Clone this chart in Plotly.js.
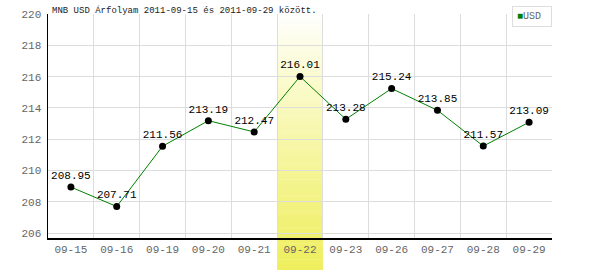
<!DOCTYPE html>
<html>
<head>
<meta charset="utf-8">
<script src="https://cdn.plot.ly/plotly-3.0.1.min.js"></script>
<style>html,body{margin:0;padding:0;background:#fff;}#chart{width:600px;height:270px;}</style>
</head>
<body>
<div id="chart"></div>
<script>
const dates = ["09-15","09-16","09-19","09-20","09-21","09-22","09-23","09-26","09-27","09-28","09-29"];
const usdRates = [208.95,207.71,211.56,213.19,212.47,216.01,213.28,215.24,213.85,211.57,213.09];
const yTicks = [206,208,210,212,214,216,218,220];
const highlightDate = "09-22";
const seriesName = "USD";
const titleText = "MNB USD Árfolyam 2011-09-15 és 2011-09-29 között.";

const mono = "Liberation Mono, DejaVu Sans Mono, monospace";
const hIdx = dates.indexOf(highlightDate);
const maxVal = Math.max(...usdRates);

const shapes = [];
shapes.push({type:'line', xref:'paper', yref:'y', x0:0, x1:1, y0:maxVal, y1:maxVal,
  line:{color:'#9ad89a', width:1, dash:'4px,3px'}, layer:'between'});
const N = 48, yTop = 1, yBot = -32/224;
for (let i = 0; i < N; i++) {
  const t0 = i / N, t1 = (i + 1) / N;
  const t = (t0 + t1) / 2;
  const r = Math.round(255 - (255 - 238) * t);
  const g = Math.round(255 - (255 - 238) * t);
  const b = Math.round(255 - (255 - 92) * Math.pow(t, 0.9));
  shapes.push({type:'rect', xref:'x', yref:'paper',
    x0:hIdx - 0.5, x1:hIdx + 0.5,
    y0:yTop - (yTop - yBot) * t1 - 0.001, y1:yTop - (yTop - yBot) * t0,
    fillcolor:`rgb(${r},${g},${b})`, line:{width:0}, layer:'between'});
}

const trace = {
  type:'scatter', mode:'lines+markers+text', x:dates, y:usdRates, name:seriesName,
  text:usdRates.map(v => v.toFixed(2)), textposition:'top center',
  textfont:{family:mono, size:11, color:'#000'},
  line:{color:'#008000', width:1},
  marker:{color:'#000', size:7},
  cliponaxis:false, showlegend:false, hoverinfo:'skip'
};

const layout = {
  width:600, height:270,
  margin:{l:48, r:48, t:14, b:32},
  paper_bgcolor:'#fff', plot_bgcolor:'#fff',
  showlegend:false,
  title:{text:titleText, x:52/600, xref:'container', xanchor:'left', y:1 - 10/270, yref:'container', yanchor:'middle',
    font:{family:mono, size:9, color:'#222'}},
  xaxis:{type:'category', range:[-0.5, dates.length - 0.5], tickson:'boundaries',
    showgrid:true, gridcolor:'#dddddd', gridwidth:1,
    showline:true, linecolor:'#000', linewidth:1.5, ticks:'', zeroline:false,
    tickfont:{family:mono, size:11, color:'#666'}, fixedrange:true},
  yaxis:{range:[205.7, 220], tickvals:yTicks, ticktext:yTicks.map(String),
    showgrid:false,
    minor:{tickvals:yTicks.filter(v => v < 220), showgrid:true, gridcolor:'#dddddd', gridwidth:1, ticks:''},
    showline:true, linecolor:'#000', linewidth:1.5, ticks:'', zeroline:false,
    ticklabelstandoff:3,
    tickfont:{family:mono, size:11, color:'#666'}, fixedrange:true},
  shapes:shapes,
  annotations:[{
    xref:'paper', yref:'paper', x:1, y:1 + 8/224, xanchor:'right', yanchor:'top',
    text:'<span style="color:#008000">■</span>' + seriesName + ' ', showarrow:false,
    font:{family:mono, size:10, color:'#666'},
    bordercolor:'#dddddd', borderwidth:1, borderpad:4, bgcolor:'#fff', align:'left'
  }]
};

Plotly.newPlot('chart', [trace], layout, {staticPlot:true, displayModeBar:false});
</script>
</body>
</html>
